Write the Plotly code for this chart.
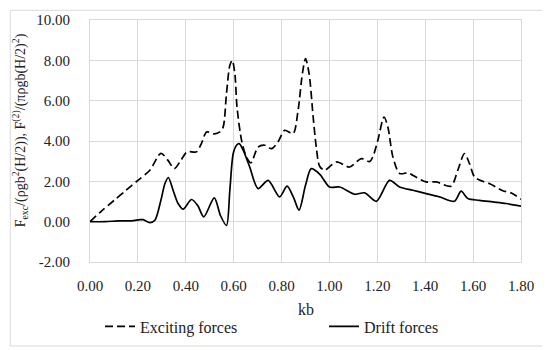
import plotly.graph_objects as go

# Exciting forces (dashed)
kb_exc = [0.00, 0.05, 0.10, 0.15, 0.20, 0.25, 0.296, 0.325, 0.352, 0.38, 0.405, 0.445,
          0.466, 0.487, 0.52, 0.542, 0.556, 0.57, 0.584, 0.594, 0.605, 0.614, 0.633, 0.653,
          0.672, 0.702, 0.73, 0.758, 0.785, 0.813, 0.848, 0.869, 0.887, 0.90, 0.915, 0.932,
          0.945, 0.959, 0.98, 1.029, 1.084, 1.133, 1.168, 1.181, 1.202, 1.228, 1.244, 1.265,
          1.293, 1.33, 1.348, 1.404, 1.446, 1.508, 1.536, 1.564, 1.585, 1.606, 1.64, 1.668,
          1.724, 1.76, 1.80]
exc = [0.00, 0.55, 1.05, 1.55, 2.05, 2.55, 3.39, 3.05, 2.63, 3.05, 3.46, 3.46,
       3.9, 4.45, 4.35, 4.45, 4.69, 6.35, 7.75, 8.0, 7.34, 5.68, 4.03, 3.21,
       2.92, 3.7, 3.79, 3.62, 3.95, 4.53, 4.37, 5.52, 7.34, 8.08, 7.34, 5.19,
       3.70, 2.75, 2.55, 2.96, 2.71, 3.13, 2.98, 3.21, 4.03, 5.19, 4.69, 3.21,
       2.39, 2.42, 2.30, 1.97, 1.97, 1.76, 2.55, 3.38, 2.88, 2.22, 2.0, 1.89,
       1.53, 1.42, 1.11]

# Drift forces (solid)
kb_drift = [0.00, 0.063, 0.118, 0.174, 0.209, 0.222, 0.25, 0.271, 0.296, 0.313, 0.327,
            0.347, 0.368, 0.389, 0.424, 0.45, 0.475, 0.519, 0.545, 0.57, 0.584, 0.598,
            0.612, 0.623, 0.64, 0.667, 0.702, 0.744, 0.792, 0.823, 0.85, 0.873, 0.90,
            0.924, 0.96, 1.0, 1.043, 1.105, 1.147, 1.196, 1.251, 1.293, 1.348, 1.404,
            1.46, 1.522, 1.55, 1.578, 1.626, 1.682, 1.738, 1.80]
drift = [0.00, 0.00, 0.04, 0.04, 0.10, 0.10, -0.05, 0.07, 1.06, 1.89, 2.19,
         1.56, 0.90, 0.62, 1.10, 0.80, 0.24, 1.18, 0.30, -0.19, 1.56, 3.37,
         3.79, 3.87, 3.54, 2.71, 1.64, 2.05, 1.23, 1.76, 1.20, 0.57, 1.80,
         2.63, 2.35, 1.72, 1.72, 1.36, 1.43, 1.01, 2.05, 1.72, 1.56, 1.39,
         1.23, 1.01, 1.51, 1.15, 1.06, 0.98, 0.90, 0.77]

x_ticks = [0.0, 0.2, 0.4, 0.6, 0.8, 1.0, 1.2, 1.4, 1.6, 1.8]
x_labels = ["0.00", "0.20", "0.40", "0.60", "0.80", "1.00", "1.20", "1.40", "1.60", "1.80"]
y_ticks = [-2, 0, 2, 4, 6, 8, 10]
y_labels = ["-2.00", "0.00", "2.00", "4.00", "6.00", "8.00", "10.00"]

FONT = "Liberation Serif"
GRID = "#d9d9d9"

fig = go.Figure()
fig.add_trace(go.Scatter(
    x=kb_exc, y=exc, mode="lines", name="Exciting forces", legend="legend",
    line=dict(color="black", width=1.7, dash="8px,4px", shape="spline", smoothing=0.8),
))
fig.add_trace(go.Scatter(
    x=kb_drift, y=drift, mode="lines", name="Drift forces", legend="legend2",
    line=dict(color="black", width=1.7, shape="spline", smoothing=0.8),
))

leg_common = dict(orientation="h", xref="container", yref="container",
                  xanchor="left", yanchor="middle", y=0.09,
                  font=dict(size=16), itemwidth=30, bgcolor="rgba(0,0,0,0)")

fig.update_layout(
    width=550, height=350,
    margin=dict(l=82, r=37, t=12, b=96, autoexpand=False),
    paper_bgcolor="white", plot_bgcolor="white",
    font=dict(family=FONT, size=15, color="#222222"),
    showlegend=True,
    legend=dict(x=92 / 550, **leg_common),
    legend2=dict(x=316 / 550, **leg_common),
    xaxis=dict(range=[0, 1.8], tickvals=x_ticks, ticktext=x_labels, automargin=False,
               showgrid=True, gridcolor=GRID, gridwidth=1,
               showline=True, linecolor=GRID, mirror=True, zeroline=False,
               ticks="", ticklabelstandoff=10, tickfont=dict(size=15)),
    yaxis=dict(range=[-2, 10], tickvals=y_ticks, ticktext=y_labels, automargin=False,
               showgrid=True, gridcolor=GRID, gridwidth=1,
               showline=True, linecolor=GRID, mirror=True, zeroline=False,
               ticks="", ticklabelstandoff=16, tickfont=dict(size=15)),
    shapes=[dict(type="rect", xref="paper", yref="paper",
                 x0=-0.185, x1=1.058, y0=-0.347, y1=1.04,
                 line=dict(color=GRID, width=1), fillcolor="rgba(0,0,0,0)", layer="below")],
    annotations=[
        dict(text="F<sub>exc</sub>/(ρgb<sup>2</sup>(H/2)), F<sup>(2)</sup>/(πρgb(H/2)<sup>2</sup>)",
             xref="paper", yref="paper", x=-0.162, y=0.545, textangle=-90,
             showarrow=False, font=dict(family=FONT, size=14),
             xanchor="center", yanchor="middle"),
        dict(text="kb", xref="paper", yref="paper", x=0.5, y=-0.195,
             showarrow=False, font=dict(family=FONT, size=16),
             xanchor="center", yanchor="middle"),
    ],
)

fig.write_html("out.html")
